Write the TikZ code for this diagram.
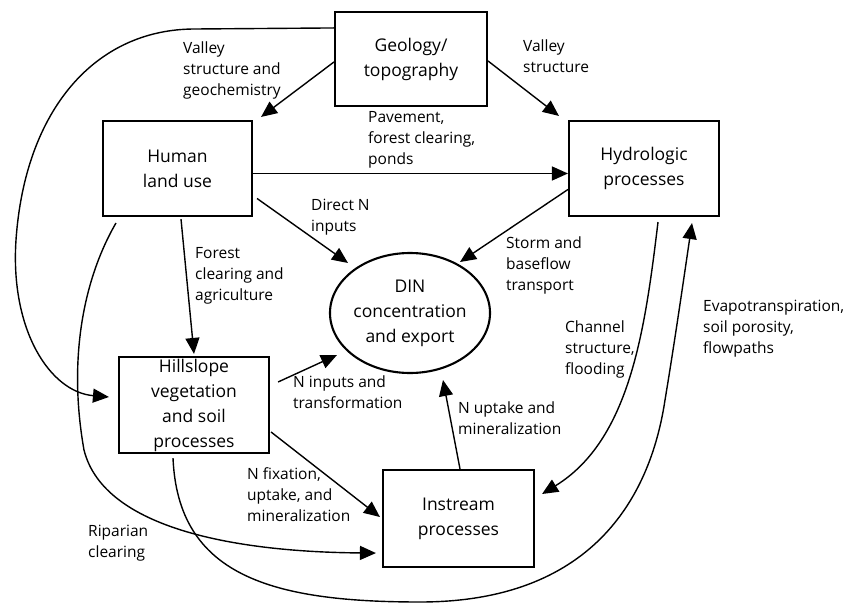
\documentclass[tikz,border=0pt]{standalone}
\usepackage{fontspec}
\setmainfont{Open Sans}
\usetikzlibrary{arrows.meta,shapes.geometric,calc}
\begin{document}
\begin{tikzpicture}[x=1pt,y=-1pt,
 box/.style={draw,line width=2.1pt,inner sep=0pt,align=center,font=\fontsize{17.5}{25}\selectfont},
 lbl/.style={anchor=north west,inner sep=0pt,align=left,font=\fontsize{15.5}{21}\selectfont},
 conn/.style={line width=1.4pt,-{Triangle[length=16pt,width=14pt]}},
]
\useasboundingbox (0,0) rectangle (843,604);
\node[box,minimum width=152pt,minimum height=94pt] (geo) at (411,59) {Geology/\\topography};
\node[box,minimum width=149pt,minimum height=95pt] (human) at (177.5,168.5) {Human\\land use};
\node[box,minimum width=150pt,minimum height=95pt] (hydro) at (644,168.5) {Hydrologic\\processes};
\node[box,minimum width=150pt,minimum height=96pt] (hill) at (194,405) {Hillslope\\vegetation\\and soil\\processes};
\node[box,minimum width=151pt,minimum height=97pt] (instream) at (458.5,518.5) {Instream\\processes};
\node[box,ellipse,minimum width=154pt,minimum height=120pt] (din) at (410,313) {DIN\\concentration\\and export};

\node[lbl] (l1) at (183,42) {Valley\\structure and\\geochemistry};
\node[lbl] (l2) at (523,40) {Valley\\structure};
\node[lbl] (l3) at (368,111) {Pavement,\\forest clearing,\\ponds};
\node[lbl] (l4) at (311,199) {Direct N\\inputs};
\node[lbl] (l5) at (195,247) {Forest\\clearing and\\agriculture};
\node[lbl] (l6) at (506,237) {Storm and\\baseflow\\transport};
\node[lbl] (l7) at (565,321) {Channel\\structure,\\flooding};
\node[lbl] (l8) at (703,300) {Evapotranspiration,\\soil porosity,\\flowpaths};
\node[lbl] (l9) at (293,376) {N inputs and\\transformation};
\node[lbl] (l10) at (458,402) {N uptake and\\mineralization};
\node[lbl] (l11) at (247,467) {N fixation,\\uptake, and\\mineralization};
\node[lbl] (l12) at (88,525) {Riparian\\clearing};

\draw[conn] ($(geo.west)+(0,3)$) -- ($(human.north east)+(8,-3)$);
\draw[conn] ($(geo.east)+(0,2)$) -- ($(hydro.north west)+(-9,-4)$);
\draw[conn] ($(geo.north west)+(0,17)$) -- (195,29) .. controls (95,29) and (25,110) .. (16,240) .. controls (10,330) and (50,392) .. ($(hill.west)+(-9,-8)$);
\draw[conn] ($(human.east)+(0,5)$) -- ($(hydro.west)+(0,5)$);
\draw[conn] ($(human.east)+(4,30)$) -- ($(din.center)+(-62,-50)$);
\draw[conn] ($(human.south)+(3.5,2)$) -- ($(hill.north)+(0,-2)$);
\draw[conn] ($(human.south west)+(14,6)$) .. controls (83,280) and (68,360) .. (84,450) .. controls (104,530) and (240,552) .. ($(instream.south west)+(-6,-15)$);
\draw[conn] ($(hill.south)+(-21,4)$) .. controls (178,575) and (270,602) .. (420,602) .. controls (590,602) and (650,500) .. (665,400) .. controls (675,340) and (685,270) .. ($(hydro.south)+(48,6)$);
\draw[conn] ($(hydro.south)+(14,5)$) .. controls (645,330) and (630,440) .. ($(instream.east)+(7,-24.5)$);
\draw[conn] ($(hydro.west)+(0,21)$) -- ($(din.center)+(50,-51)$);
\draw[conn] ($(hill.east)+(8,-23)$) -- ($(din.center)+(-73,42)$);
\draw[conn] ($(hill.east)+(1,27)$) -- ($(instream.west)+(-2,-1.5)$);
\draw[conn] ($(instream.north)+(1.5,0)$) -- ($(din.center)+(33,67)$);
\end{tikzpicture}
\end{document}
